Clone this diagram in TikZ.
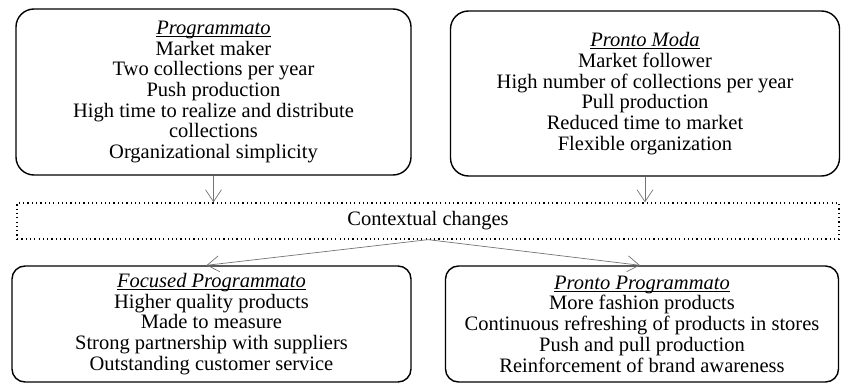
\documentclass[tikz,border=0pt]{standalone}
\usepackage{fontspec}
\setmainfont{Liberation Serif}
\usetikzlibrary{arrows.meta}
\newcommand\ttlu[1]{\sbox0{\textit{#1}}\rlap{\rule[-2.6pt]{\wd0}{1.1pt}}\usebox0}
\begin{document}
\begin{tikzpicture}[x=1pt,y=-1pt,
  box/.style={draw=black, line width=1.4pt, align=center, inner sep=0pt,
    font=\fontsize{20.5}{20.7}\selectfont},
  topbox/.style={box, rounded corners=18pt},
  botbox/.style={box, rounded corners=13pt},
  ctxbox/.style={draw=black, line width=1.3pt, dash pattern=on 1.2pt off 3.1pt, inner sep=0pt,
    font=\fontsize{20.5}{20.7}\selectfont},
  conn/.style={draw=black!55, line width=0.7pt, -{Straight Barb[length=12pt,width=16pt,line width=0.7pt]}}
]
\useasboundingbox (0,0) rectangle (841,383);
\node[topbox, minimum width=395pt, minimum height=166pt] (pg) at (213.5,92)
  {\ttlu{Programmato}\\Market maker\\Two collections per year\\Push production\\High time to realize and distribute\\collections\\Organizational simplicity};
\node[topbox, minimum width=389pt, minimum height=165pt] (pm) at (645,93.5)
  {\ttlu{Pronto Moda}\\Market follower\\High number of collections per year\\Pull production\\Reduced time to market\\Flexible organization};
\node[ctxbox, minimum width=822pt, minimum height=36pt] (cc) at (428,221) {Contextual changes};
\node[botbox, minimum width=399pt, minimum height=116pt] (fp) at (211.5,324)
  {\ttlu{Focused Programmato}\\Higher quality products\\Made to measure\\Strong partnership with suppliers\\Outstanding customer service};
\node[botbox, minimum width=393pt, minimum height=116pt] (pp) at (642,324)
  {\ttlu{Pronto Programmato}\\More fashion products\\Continuous refreshing of products in stores\\Push and pull production\\Reinforcement of brand awareness};
\draw[conn] (pg.south) -- (pg.south |- cc.north);
\draw[conn] (pm.south) -- (pm.south |- cc.north);
\draw[conn] (cc.south) -- ([xshift=-5pt]fp.north);
\draw[conn] (cc.south) -- ([xshift=-2pt]pp.north);
\end{tikzpicture}
\end{document}
